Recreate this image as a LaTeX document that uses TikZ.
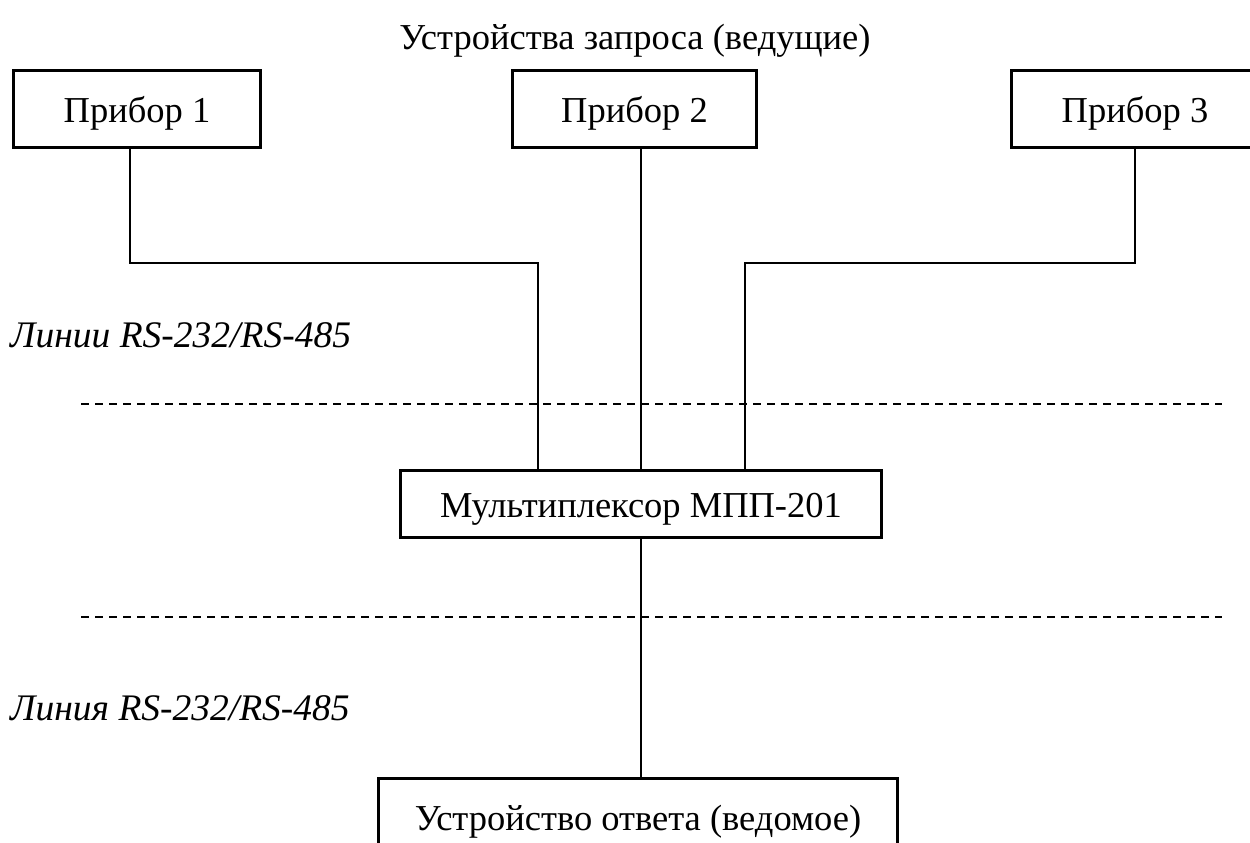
\documentclass[tikz,border=0pt]{standalone}
\usepackage{fontspec}
\setmainfont{Liberation Serif}
\begin{document}
\begin{tikzpicture}[x=1pt,y=-1pt,
  txt/.style={font=\fontsize{36.5}{40}\selectfont},
  box/.style={draw,line width=3.2pt,rectangle,inner sep=0pt,txt,text height=26pt,text depth=0pt},
  wire/.style={line width=1.5pt},
  sep/.style={line width=2pt,dash pattern=on 8pt off 6pt},
  lbl/.style={font=\fontsize{37.5}{40}\selectfont\itshape,anchor=base west,inner sep=0pt}]
\useasboundingbox (0,0) rectangle (1250,843);
\clip (0,0) rectangle (1250,843);
\node[txt,anchor=base,inner sep=0pt] (title) at (635,49) {Устройства запроса (ведущие)};
\node[box,minimum width=247pt,minimum height=77pt] (p1) at (137,109) {Прибор 1};
\node[box,minimum width=244pt,minimum height=77pt] (p2) at (634.5,109) {Прибор 2};
\node[box,minimum width=247pt,minimum height=77pt] (p3) at (1135,109) {Прибор 3};
\node[box,minimum width=481pt,minimum height=67pt] (mux) at (641,504) {Мультиплексор МПП-201};
\node[box,minimum width=519pt,minimum height=77pt] (slave) at (638,817) {Устройство ответа (ведомое)};
\node[lbl] (l1) at (10,347) {Линии RS-232/RS-485};
\node[lbl] (l2) at (10,720) {Линия RS-232/RS-485};
\coordinate (j1) at (538,263);
\coordinate (j3) at (745,263);
\draw[wire] ([xshift=-7pt]p1.south) |- (j1) -- (j1 |- mux.north);
\draw[wire] (p2.south -| mux.north) -- (mux.north);
\draw[wire] (p3.south) |- (j3) -- (j3 |- mux.north);
\draw[wire] (mux.south) -- (mux.south |- slave.north);
\coordinate (d1a) at (81,404);
\coordinate (d1b) at (1222,404);
\coordinate (d2a) at (81,617);
\coordinate (d2b) at (1222,617);
\draw[sep] (d1a) -- (d1b);
\draw[sep] (d2a) -- (d2b);
\end{tikzpicture}
\end{document}
